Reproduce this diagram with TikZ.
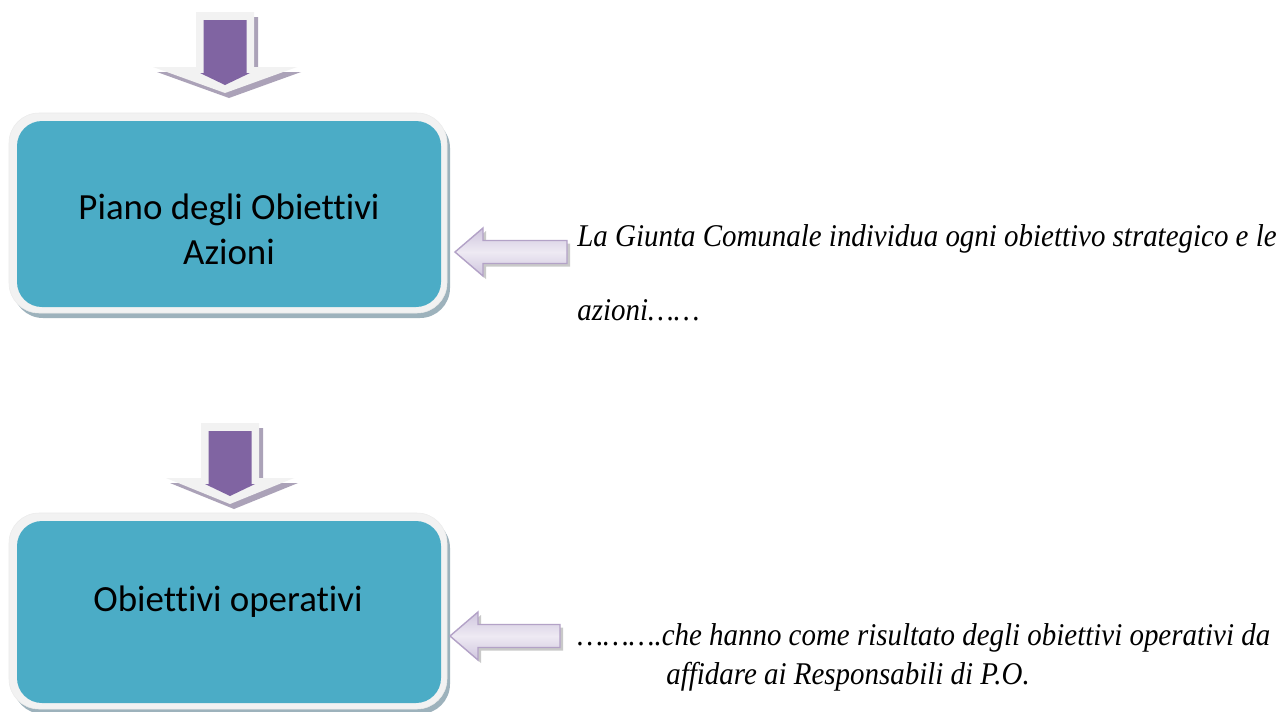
\documentclass[tikz,border=0pt]{standalone}
\usepackage{fontspec}
\newfontfamily\boxfont[Ligatures=NoCommon]{Carlito}
\newfontfamily\notefont[FakeStretch=0.915]{Liberation Serif}
\definecolor{c1}{HTML}{4BACC6}
\definecolor{c2}{HTML}{8064A2}
\definecolor{framecolor}{HTML}{F2F2F2}
\definecolor{shadecolor}{HTML}{9DB2BC}
\definecolor{downshade}{HTML}{ABA2B8}
\definecolor{noteedge}{HTML}{B3A2C7}
\definecolor{notedark}{HTML}{CFC5DE}
\definecolor{notelight}{HTML}{EEEAF3}

\begin{document}
\begin{tikzpicture}[
    x=0.02cm, y=-0.02cm,
    every node/.style={inner sep=0pt},
    boxshadow/.style={fill=shadecolor, rounded corners=0.6cm},
    boxframe/.style={fill=framecolor, draw=black!8, line width=0.3pt,
                     rounded corners=0.6cm},
    boxcore/.style={fill=c1, rounded corners=0.5cm},
    boxtext/.style={font=\boxfont\fontsize{21}{25}\selectfont, anchor=base},
    notetext/.style={font=\notefont\itshape\fontsize{18}{22}\selectfont,
                     anchor=base west},
    downouter/.style={fill=framecolor},
    downinner/.style={fill=c2},
    noteshadow/.style={fill=black!35, fill opacity=0.6},
    notearrow/.style={draw=noteedge, line width=0.8pt, top color=notedark,
                      bottom color=notedark, middle color=notelight},
]
\useasboundingbox[fill=white] (0,0) rectangle (1277,711);

% ---------------------------------------------------------------- the boxes
\foreach \t/\b in {113/313, 513/709} {
    \fill[boxshadow] (13, {\t+5}) rectangle (450, {\b+5});
    \filldraw[boxframe] (9, \t) rectangle (447, \b);
    \fill[boxcore] (17, {\t+8}) rectangle (441, {\b-6});
}

% ---------------------------------------------------------------- arrows down
\foreach \cx/\ty/\hw in {225/12/72, 230/423/64} {
    \begin{scope}[shift={(\cx,\ty)}]
        \fill[downshade, shift={(4,5)}] (-29,0) -- (29,0) -- (29,55)
            -- (\hw,55) -- (0,81) -- (-\hw,55) -- (-29,55) -- cycle;
        \fill[downouter] (-29,0) -- (29,0) -- (29,55)
            -- (\hw,55) -- (0,81) -- (-\hw,55) -- (-29,55) -- cycle;
        \fill[downinner] (-21.5,8) -- (21.5,8) -- (21.5,61)
            -- (25,61) -- (0,73) -- (-25,61) -- (-21.5,61) -- cycle;
    \end{scope}
}

% ---------------------------------------------------------------- arrows left
\foreach \tx/\ty/\len in {455/252/112, 450/636/110} {
    \begin{scope}[shift={(\tx,\ty)}]
        \fill[noteshadow, shift={(3,3)}] (0,0) -- (28,-24) -- (28,-11.5)
            -- (\len,-11.5) -- (\len,11.5) -- (28,11.5) -- (28,24) -- cycle;
        \path[notearrow] (0,0) -- (28,-24) -- (28,-11.5)
            -- (\len,-11.5) -- (\len,11.5) -- (28,11.5) -- (28,24) -- cycle;
    \end{scope}
}

% ---------------------------------------------------------------- box texts
\node[boxtext] (piano) at (229,219) {Piano degli Obiettivi};
\node[boxtext] (azioni) at (229,264) {Azioni};
\node[boxtext] (operativi) at (228,611) {Obiettivi operativi};

% ---------------------------------------------------------------- notes
\node[notetext] (giunta) at (577,246) {La Giunta Comunale individua ogni obiettivo strategico e le};
\node[notetext] (giuntab) at (577,320) {azioni……};
\node[notetext] (risultato) at (577,645) {……….che hanno come risultato degli obiettivi operativi da};
\node[notetext] (risultatob) at (666,684) {affidare ai Responsabili di P.O.};

\end{tikzpicture}
\end{document}
